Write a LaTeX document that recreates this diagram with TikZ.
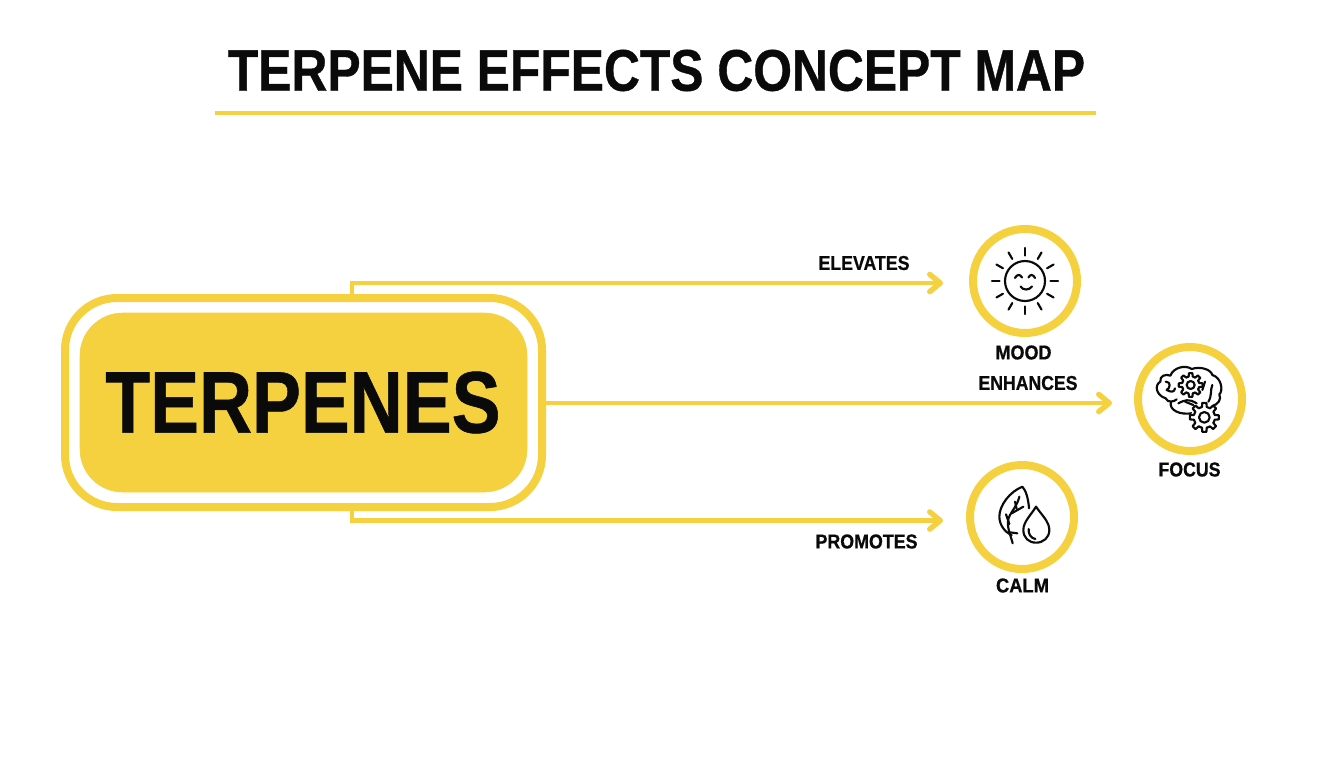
\documentclass[tikz,border=0pt]{standalone}
\usepackage{fontspec}
\setmainfont{Liberation Sans}[BoldFont={Liberation Sans Bold},BoldFeatures={FakeBold=0.7}]
\usetikzlibrary{arrows.meta}
\definecolor{yel}{HTML}{F5D13F}
\definecolor{ink}{HTML}{0A0A0A}
\newcommand{\fitbox}[3]{\resizebox{\dimexpr #1pt*3/4\relax}{\dimexpr #2pt*3/4\relax}{\bfseries #3}}
\tikzset{
  x=0.75pt,y=-0.75pt,
  conn/.style={draw=yel,line width=3.3pt,line cap=butt,line join=miter,-{Straight Barb[length=8pt,width=13pt,line width=4pt,round]}},
  ring/.style={circle,draw=yel,line width=6pt,fill=white,minimum size=78pt,inner sep=0pt},
  lab/.style={text=ink,inner sep=0pt,anchor=center},
  icon/.style={draw=ink,line width=1.6pt,line cap=round,line join=round,fill=none},
}
\begin{document}
\begin{tikzpicture}
\useasboundingbox (0,0) rectangle (1344,768);
\fill[white] (0,0) rectangle (1344,768);
% title
\node[lab] (title) at (656.5,70.5) {\fitbox{857}{41}{TERPENE EFFECTS CONCEPT MAP}};
\coordinate (ruleL) at (215,113);
\coordinate (ruleR) at (1096,113);
\draw[yel,line width=3.2pt] (ruleL) -- (ruleR);
% connectors (below the central frame)
\coordinate (topStart) at (352,298);
\coordinate (topEnd) at (943,283);
\coordinate (midStart) at (546,403);
\coordinate (midEnd) at (1112,403);
\coordinate (lowStart) at (352,507);
\coordinate (lowEnd) at (943,520.5);
\draw[conn] (topStart) |- (topEnd);
\draw[conn] (lowStart) |- (lowEnd);
\draw[conn] (midStart) -- (midEnd);
% central node
\draw[yel,line width=6pt,fill=white,rounded corners=39pt] (65,298) rectangle (542,507);
\draw[yel,fill=yel,rounded corners=32pt] (80,313) rectangle (527,492);
\node[lab] (terpenes) at (303,402.5) {\fitbox{395}{61}{TERPENES}};
% labels
\node[lab] (elevates) at (864,263) {\fitbox{91}{14}{ELEVATES}};
\node[lab] (enhances) at (1028,383) {\fitbox{99}{14}{ENHANCES}};
\node[lab] (promotes) at (866.5,541.5) {\fitbox{102}{14}{PROMOTES}};
% rings
\node[ring] (moodring) at (1025,281) {};
\node[ring] (focusring) at (1190,399) {};
\node[ring] (calmring) at (1022,517) {};
\node[lab] (mood) at (1023.5,352.5) {\fitbox{56}{14}{MOOD}};
\node[lab] (focus) at (1189.5,469.5) {\fitbox{62}{14}{FOCUS}};
\node[lab] (calm) at (1022.5,585.5) {\fitbox{53}{14}{CALM}};
% sun icon
\begin{scope}[shift={(1025,281)}]
\draw[icon] (0,0) circle (20);
\foreach \a in {0,30,...,330}{\draw[icon] (\a:25.5) -- (\a:33);}
\draw[icon] (-10,-3) .. controls (-8,-7) and (-5,-7) .. (-3,-3.5);
\draw[icon] (3.5,-3.5) .. controls (5,-7) and (8,-7) .. (10,-3);
\draw[icon] (-4.5,5.5) .. controls (-2,9.5) and (4,9.5) .. (7,5.5);
\end{scope}
% brain and gears icon
\begin{scope}[shift={(1125,335)},x=0.25pt,y=-0.25pt]
\draw[icon] (122,190) .. controls (92,180) and (88,150) .. (106,140)
  .. controls (103,122) and (123,116) .. (136,122)
  .. controls (145,98) and (180,88) .. (200,102)
  .. controls (225,93) and (258,103) .. (262,120)
  .. controls (290,128) and (295,168) .. (283,178)
  .. controls (290,193) and (280,208) .. (262,213);
\draw[icon] (122,190) .. controls (128,205) and (148,200) .. (155,193);
\draw[icon] (138,200) .. controls (130,225) and (165,242) .. (205,234);
\draw[icon] (122,140) .. controls (140,140) and (135,160) .. (125,165) .. controls (135,170) and (148,175) .. (150,160);
\draw[icon] (160,205) .. controls (180,195) and (190,190) .. (215,205);
\draw[icon] (240,140) -- (232,165);
\draw[icon] (262,150) .. controls (255,165) and (262,180) .. (250,200);
\draw[icon] (180,200) -- (205,210);
% gear 1
\begin{scope}[shift={(197,150)}]
\foreach \a in {0,45,...,315}{
  \draw[icon] (\a-14:26) -- (\a-8:36) -- (\a+8:36) -- (\a+14:26) -- (\a+31:26);}
\draw[icon] (0,0) circle (12);
\end{scope}
% gear 2
\begin{scope}[shift={(238,247)}]
\fill[white] (0,0) circle (40);
\foreach \a in {0,45,...,315}{
  \draw[icon] (\a-13:32) -- (\a-8:44) -- (\a+8:44) -- (\a+13:32) -- (\a+32:32);}
\draw[icon] (0,0) circle (16);
\end{scope}
\end{scope}
% leaf and drop icon
\begin{scope}[shift={(960,455)},x=0.25pt,y=-0.25pt]
\draw[icon] (207,160) .. controls (205,130) and (197,105) .. (187,95)
  .. controls (150,110) and (118,150) .. (118,185)
  .. controls (118,210) and (135,232) .. (155,240);
\draw[icon] (158,265) .. controls (150,235) and (135,205) .. (150,180) .. controls (158,165) and (172,150) .. (178,125);
\draw[icon] (148,207) -- (138,178);
\draw[icon] (150,232) -- (172,235);
\draw[icon] (155,175) -- (190,155);
\draw[icon] (165,140) -- (170,162);
\draw[icon] (228,155) .. controls (245,180) and (268,200) .. (268,225)
  .. controls (268,248) and (250,263) .. (228,263)
  .. controls (206,263) and (190,248) .. (190,225)
  .. controls (190,200) and (213,180) .. (228,155) -- cycle;
\draw[icon] (206,222) .. controls (204,238) and (214,250) .. (226,252);
\end{scope}
\end{tikzpicture}
\end{document}
